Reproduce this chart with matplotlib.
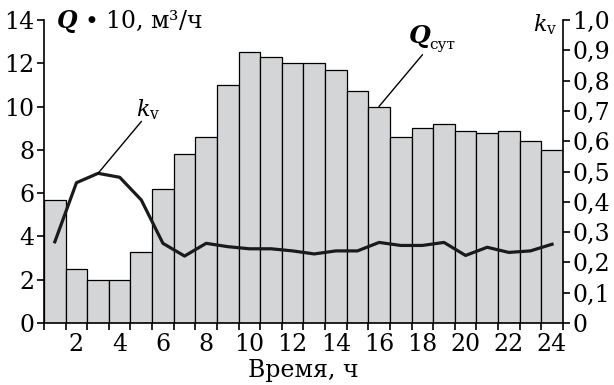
import numpy as np
import matplotlib
matplotlib.use("Agg")
import matplotlib.pyplot as plt
from matplotlib.ticker import FixedLocator

plt.rcParams['font.family'] = ['DejaVu Serif']
plt.rcParams['mathtext.fontset'] = 'dejavuserif'

# часы суток
hours = np.arange(1, 25)
# Q * 10, м3/ч
q_values = [5.7, 2.5, 2.0, 2.0, 3.3, 6.2, 7.8, 8.6, 11.0, 12.5, 12.3, 12.0,
            12.0, 11.7, 10.7, 10.0, 8.6, 9.0, 9.2, 8.85, 8.8, 8.85, 8.4, 8.0]
# коэффициент k_v
kv_values = [0.268, 0.463, 0.494, 0.481, 0.406, 0.263, 0.221, 0.263, 0.252, 0.245,
             0.245, 0.238, 0.228, 0.238, 0.238, 0.266, 0.256, 0.256, 0.266, 0.223,
             0.250, 0.233, 0.238, 0.260]
x_labels = [str(h) for h in range(2, 25, 2)]
left_ticks = list(range(0, 15, 2))
right_ticks = [i / 10 for i in range(11)]
right_labels = ['0'] + [f"{v:.1f}".replace('.', ',') for v in right_ticks[1:]]

fig = plt.figure(figsize=(6.14, 3.85), dpi=100)
ax = fig.add_axes([0.0717, 0.161, 0.845, 0.787])

ax.bar(hours, q_values, width=1.0, color='#d4d5d7', edgecolor='black', linewidth=0.9)
ax.set_xlim(0.5, 24.5)
ax.set_ylim(0, 14)

ax.spines['top'].set_visible(False)
ax.spines['right'].set_visible(False)
for s in ('left', 'bottom'):
    ax.spines[s].set_linewidth(1.2)

ax.set_yticks(left_ticks)
ax.set_yticklabels([str(t) for t in left_ticks], fontsize=17)
ax.tick_params(axis='y', direction='out', length=5, width=1.2, pad=2)

ax.set_xticks(range(2, 25, 2))
ax.set_xticklabels(x_labels, fontsize=17)
ax.xaxis.set_minor_locator(FixedLocator(np.arange(0.5, 25, 1)))
ax.tick_params(axis='x', which='major', length=0, pad=7)
ax.tick_params(axis='x', which='minor', direction='out', length=5, width=1.2)
ax.set_xlabel('Время, ч', fontsize=17, labelpad=2)

ax2 = ax.twinx()
ax2.plot(hours, kv_values, color='#1a1a1a', linewidth=2.3)
ax2.set_ylim(0, 1.0)
ax2.set_xlim(0.5, 24.5)
for s in ('top', 'left', 'bottom'):
    ax2.spines[s].set_visible(False)
ax2.spines['right'].set_linewidth(1.2)
ax2.set_yticks(right_ticks)
ax2.set_yticklabels(right_labels, fontsize=17)
ax2.tick_params(axis='y', direction='out', length=5, width=1.2, pad=2)

# подписи осей внутри поля
ax.text(0.024, 0.995, r'$\boldsymbol{Q}$ • 10, м³/ч', transform=ax.transAxes,
        fontsize=17, va='center', ha='left')
ax2.text(0.943, 0.985, r'$k_\mathrm{v}$', transform=ax2.transAxes, fontsize=16,
         va='center', ha='left')

# выноски
ax2.plot([3.0, 5.0], [0.494, 0.665], color='black', linewidth=1.0)
ax2.text(4.75, 0.665, r'$k_\mathrm{v}$', fontsize=16, ha='left', va='bottom')
ax2.plot([16.0, 18.0], [0.715, 0.885], color='black', linewidth=1.0)
ax2.text(17.35, 0.9, r'$\boldsymbol{Q}$', fontsize=18, ha='left', va='bottom')
ax2.text(18.3, 0.895, 'сут', fontsize=11, ha='left', va='bottom')

fig.savefig('out.png', dpi=100)
